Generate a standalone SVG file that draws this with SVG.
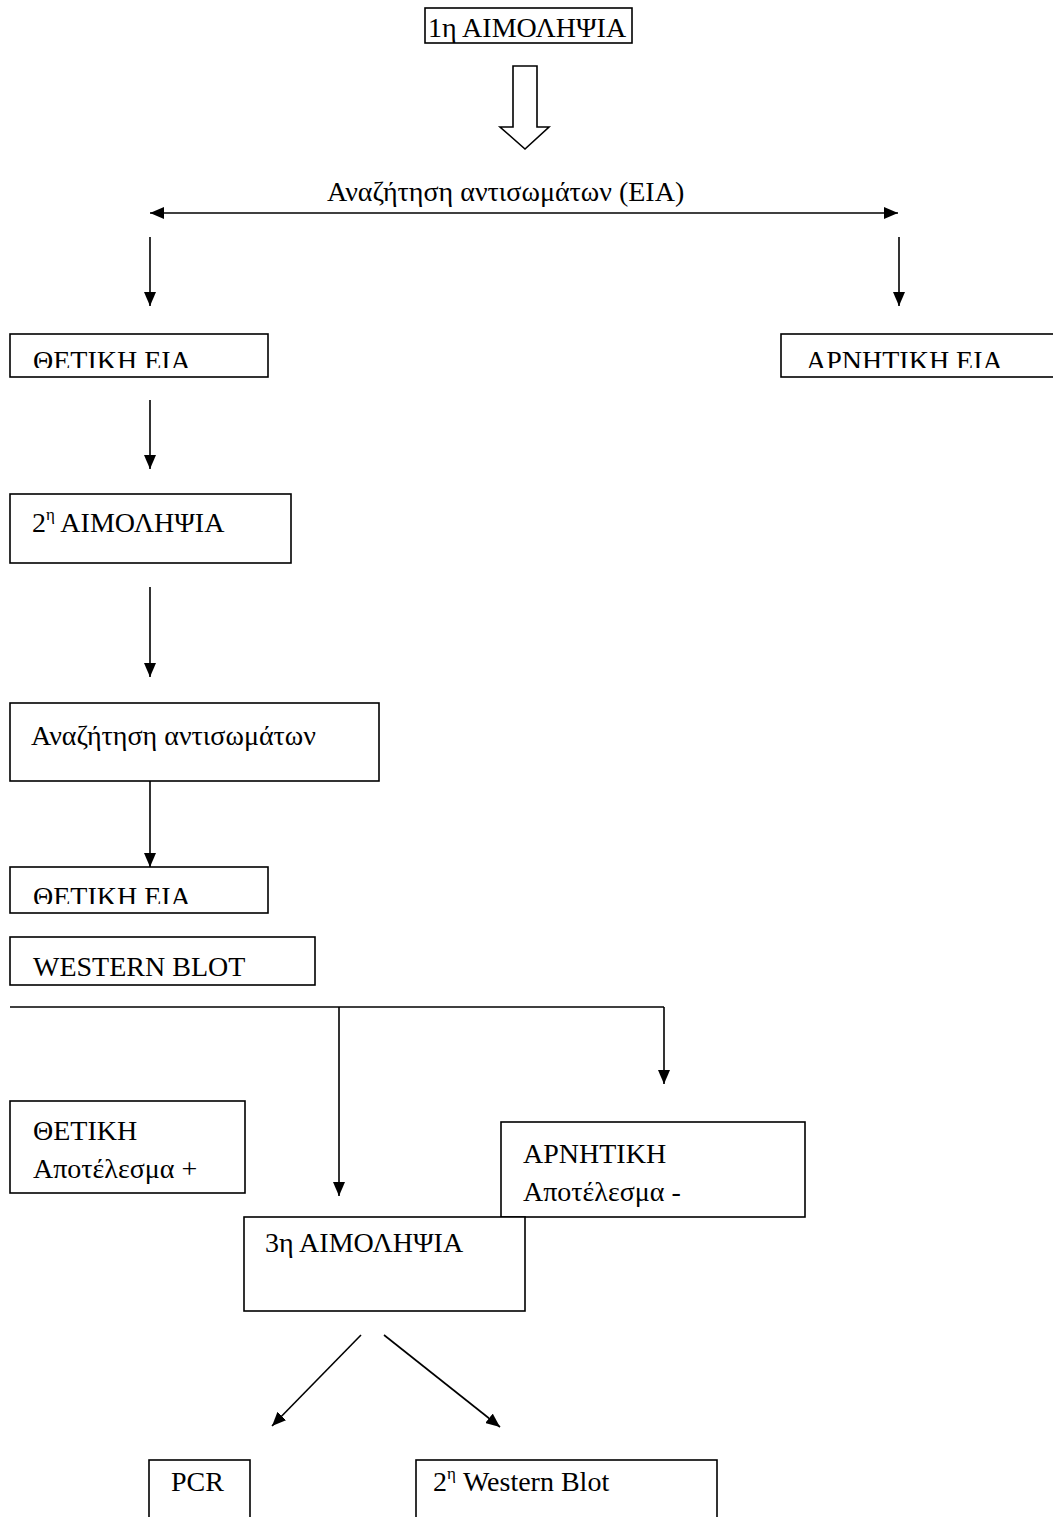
<svg xmlns="http://www.w3.org/2000/svg" width="1053" height="1517" viewBox="0 0 1053 1517">
<style>
.box{fill:#fff;stroke:#000;stroke-width:1.6}
.t{font-family:"Liberation Serif","Times New Roman",serif;font-size:28px;fill:#000}
.sup{font-size:17px}
.ln{fill:none;stroke:#000;stroke-width:1.6}
.arr{marker-end:url(#ah)}
</style>
<defs>
<marker id="ah" viewBox="0 0 14 12" refX="14" refY="6" markerWidth="14" markerHeight="12" markerUnits="userSpaceOnUse" orient="auto-start-reverse">
<path d="M0,0 L14,6 L0,12 z" fill="#000"/>
</marker>
<clipPath id="c1"><rect x="0" y="330" width="1053" height="38"/></clipPath>
<clipPath id="c2"><rect x="0" y="865" width="400" height="39"/></clipPath>
</defs>
<rect width="1053" height="1517" fill="#fff"/>

<g id="connectors">
<polygon points="513,66 537,66 537,127 549,127 525,149 500,127 513,127" fill="#fff" stroke="#000" stroke-width="1.6"/>
<line class="ln" x1="150" y1="213" x2="898" y2="213" marker-start="url(#ah)" marker-end="url(#ah)"/>
<line class="ln arr" x1="150" y1="237" x2="150" y2="306"/>
<line class="ln arr" x1="899" y1="237" x2="899" y2="306"/>
<line class="ln arr" x1="150" y1="400" x2="150" y2="469"/>
<line class="ln arr" x1="150" y1="587" x2="150" y2="677"/>
<line class="ln arr" x1="150" y1="781" x2="150" y2="867"/>
<polyline class="ln" points="10,1007 664,1007"/>
<line class="ln arr" x1="339" y1="1007" x2="339" y2="1196"/>
<line class="ln arr" x1="664" y1="1007" x2="664" y2="1084"/>
<line class="ln arr" x1="361" y1="1335" x2="272" y2="1426"/>
<line class="ln arr" x1="384" y1="1335" x2="500" y2="1427"/>
</g>

<g id="n-aimolipsia1">
<rect class="box" x="425" y="8" width="207" height="35"/>
<text class="t" x="428" y="37">1η ΑΙΜΟΛΗΨΙΑ</text>
</g>

<g id="n-anazitisi-eia">
<text class="t" x="327" y="201">Αναζήτηση αντισωμάτων (ΕΙΑ)</text>
</g>

<g id="n-thetiki-eia1">
<rect class="box" x="10" y="334" width="258" height="43"/>
<text class="t" x="33" y="370" clip-path="url(#c1)">ΘΕΤΙΚΗ ΕΙΑ</text>
</g>

<g id="n-arnitiki-eia">
<rect class="box" x="781" y="334" width="290" height="43"/>
<text class="t" x="806" y="370" clip-path="url(#c1)">ΑΡΝΗΤΙΚΗ ΕΙΑ</text>
</g>

<g id="n-aimolipsia2">
<rect class="box" x="10" y="494" width="281" height="69"/>
<text class="t" x="32" y="532">2<tspan class="sup" dy="-12">η</tspan><tspan dy="12"> ΑΙΜΟΛΗΨΙΑ</tspan></text>
</g>

<g id="n-anazitisi">
<rect class="box" x="10" y="703" width="369" height="78"/>
<text class="t" x="31" y="745">Αναζήτηση αντισωμάτων</text>
</g>

<g id="n-thetiki-eia2">
<rect class="box" x="10" y="867" width="258" height="46"/>
<text class="t" x="33" y="906" clip-path="url(#c2)">ΘΕΤΙΚΗ ΕΙΑ</text>
</g>

<g id="n-western">
<rect class="box" x="10" y="937" width="305" height="48"/>
<text class="t" x="33" y="976">WESTERN BLOT</text>
</g>

<g id="n-thetiki">
<rect class="box" x="10" y="1101" width="235" height="92"/>
<text class="t" x="33" y="1140">ΘΕΤΙΚΗ</text>
<text class="t" x="33" y="1178">Αποτέλεσμα +</text>
</g>

<g id="n-arnitiki">
<rect class="box" x="501" y="1122" width="304" height="95"/>
<text class="t" x="523" y="1163">ΑΡΝΗΤΙΚΗ</text>
<text class="t" x="523" y="1201">Αποτέλεσμα -</text>
</g>

<g id="n-aimolipsia3">
<rect class="box" x="244" y="1217" width="281" height="94"/>
<text class="t" x="265" y="1252">3η ΑΙΜΟΛΗΨΙΑ</text>
</g>

<g id="n-pcr">
<rect class="box" x="149" y="1460" width="101" height="80"/>
<text class="t" x="171" y="1491">PCR</text>
</g>

<g id="n-western2">
<rect class="box" x="416" y="1460" width="301" height="80"/>
<text class="t" x="433" y="1491">2<tspan class="sup" dy="-12">η</tspan><tspan dy="12"> Western Blot</tspan></text>
</g>
</svg>
